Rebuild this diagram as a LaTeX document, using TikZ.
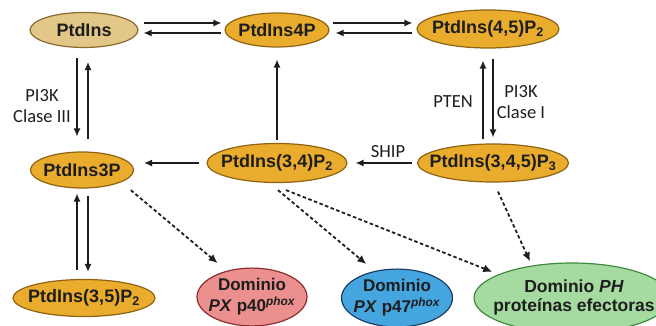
\documentclass[tikz,border=0pt]{standalone}
\usepackage{fontspec}
\setmainfont{Liberation Sans}
\newfontfamily\lblfont{Carlito}
\usetikzlibrary{shapes.geometric,arrows.meta,calc}
\definecolor{orfill}{HTML}{E9AC2D}
\definecolor{ordraw}{HTML}{8F6312}
\definecolor{tanfill}{HTML}{E3C789}
\definecolor{tandraw}{HTML}{8A6A30}
\definecolor{pkfill}{HTML}{EB8F8F}
\definecolor{pkdraw}{HTML}{8B2E2E}
\definecolor{blfill}{HTML}{45A5DF}
\definecolor{bldraw}{HTML}{1D3F66}
\definecolor{grfill}{HTML}{A5DBA0}
\definecolor{grdraw}{HTML}{3E8B3E}
\definecolor{ink}{HTML}{1E1E1E}
\newcommand{\zc}[1]{\makebox[0pt]{#1}}
\newcommand{\zl}[1]{\makebox[0pt]{\begin{tabular}{@{}c@{}}#1\end{tabular}}}
\begin{document}
\begin{tikzpicture}[x=1pt,y=-1pt,
  ell/.style={ellipse, inner sep=0pt, line width=1.2pt, text=ink,
    font=\fontsize{18}{20}\selectfont\bfseries},
  orn/.style={ell, fill=orfill, draw=ordraw},
  arr/.style={draw=ink, line width=1.3pt, -{Latex[length=8pt,width=7pt]}},
  dsh/.style={draw=ink, line width=1.8pt, dash pattern=on 3.5pt off 2.5pt,
    -{Latex[length=9pt,width=8pt]}},
  lbl/.style={text=ink, align=center, inner sep=0pt,
    font=\lblfont\fontsize{18.5}{21}\selectfont}]
\useasboundingbox (0,0) rectangle (656,326);
% nodes
\node[ell, fill=tanfill, draw=tandraw, minimum width=108pt, minimum height=35pt] (pi) at (84,30) {\zc{PtdIns}};
\node[orn, minimum width=104pt, minimum height=34pt] (p4) at (277,30) {\zc{PtdIns4P}};
\node[orn, minimum width=142pt, minimum height=38pt] (p45) at (488,29) {\zc{PtdIns(4,5)P\textsubscript{2}}};
\node[orn, minimum width=103pt, minimum height=36pt] (p3) at (82,170) {\zc{PtdIns3P}};
\node[orn, minimum width=140pt, minimum height=39pt] (p34) at (277,163) {\zc{PtdIns(3,4)P\textsubscript{2}}};
\node[orn, minimum width=151pt, minimum height=38pt] (p345) at (493,163) {\zc{PtdIns(3,4,5)P\textsubscript{3}}};
\node[orn, minimum width=142pt, minimum height=37pt] (p35) at (84,298) {\zc{PtdIns(3,5)P\textsubscript{2}}};
\node[ell, fill=pkfill, draw=pkdraw, minimum width=110pt, minimum height=55pt, font=\fontsize{17}{20}\selectfont\bfseries] (p40) at (252,297)
  {\zl{Dominio\\\textit{PX} p40\textsuperscript{\textit{phox}}}};
\node[ell, fill=blfill, draw=bldraw, minimum width=111pt, minimum height=56pt, font=\fontsize{17}{20}\selectfont\bfseries] (p47) at (397,298)
  {\zl{Dominio\\\textit{PX} p47\textsuperscript{\textit{phox}}}};
\node[ell, fill=grfill, draw=grdraw, minimum width=196pt, minimum height=70pt, font=\fontsize{17.5}{19.5}\selectfont\bfseries] (ph) at (572,298)
  {\zl{\hspace{4pt}Dominio \textit{PH}\\\hspace{4pt}prote\'{\i}nas efectoras}};
% labels
\node[lbl] (l3) at (42,106.5) {PI3K\\Clase III};
\node[lbl] (lpten) at (453,102) {PTEN};
\node[lbl] (l1) at (521,102) {PI3K\\Clase I};
\node[lbl] (lship) at (388,152) {SHIP};
% horizontal top
\draw[arr] ($(pi.east)+(5,-7)$) -- ($(p4.west)+(-3,-7)$);
\draw[arr] ($(p4.west)+(-3,3)$) -- ($(pi.east)+(5,3)$);
\draw[arr] ($(p4.east)+(3,-7)$) -- ($(p45.west)+(-4,-6)$);
\draw[arr] ($(p45.west)+(-4,4)$) -- ($(p4.east)+(6,3)$);
% verticals left
\draw[arr] ($(pi.south)+(-7,10)$) -- ($(p3.north)+(-5,-15)$);
\draw[arr] ($(p3.north)+(6,-12)$) -- ($(pi.south)+(4,14)$);
\draw[arr] ($(p35.north)+(-7,-9)$) -- ($(p3.south)+(-5,5)$);
\draw[arr] ($(p3.south)+(6,7)$) -- ($(p35.north)+(4,-7)$);
% middle vertical
\draw[arr] ($(p34.north)+(0,-3)$) -- ($(p4.south)+(0,12)$);
% verticals right
\draw[arr] ($(p345.north)+(-10,-4)$) -- ($(p45.south)+(-5,12)$);
\draw[arr] ($(p45.south)+(5,10)$) -- ($(p345.north)+(0,-6)$);
% horizontal middle
\draw[arr] ($(p345.west)+(-5,0)$) -- ($(p34.east)+(8,0)$);
\draw[arr] ($(p34.west)+(-7,0)$) -- ($(p3.east)+(10,-7)$);
% dashed
\draw[dsh] ($(p3.south east)+(12,7)$) -- ($(p40.north west)+(5,-13)$);
\draw[dsh] ($(p34.south)+(1,7)$) -- ($(p47.north west)+(9,-13)$);
\draw[dsh] ($(p34.south)+(9,7)$) -- ($(ph.north west)+(-10,-1)$);
\draw[dsh] ($(p345.south)+(5,9)$) -- ($(ph.north)+(-42,-1)$);
\end{tikzpicture}
\end{document}
